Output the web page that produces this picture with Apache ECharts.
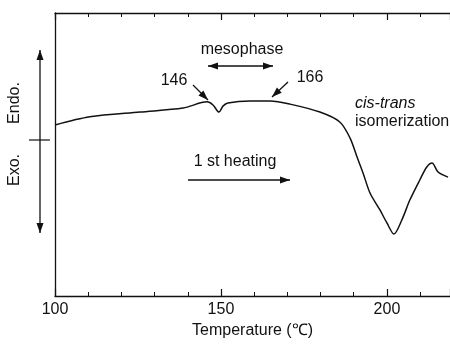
<!DOCTYPE html>
<html>
<head>
<meta charset="utf-8">
<script src="https://cdn.jsdelivr.net/npm/echarts@6/dist/echarts.min.js"></script>
<style>
  html, body { margin: 0; padding: 0; background: #fff; }
  #chart { width: 450px; height: 346px; }
</style>
</head>
<body>
<div id="chart"></div>
<script>
// DSC trace, 1st heating (temperature in degC, heat flow in arbitrary units, endo up)
var temperature = [100, 110.5, 125.6, 138.6, 145.8, 147.6, 149.4, 150.6, 152.1, 158.7,
  164.8, 170.8, 179.8, 185.8, 188.9, 191, 192.8, 194.9, 197.9, 200,
  202.1, 204.5, 206.9, 209.9, 212, 213.6, 215.4, 218.4];
var heatFlow = [6.04, 6.33, 6.5, 6.64, 6.86, 6.75, 6.5, 6.71, 6.82, 6.89,
  6.89, 6.78, 6.5, 6.15, 5.58, 4.91, 4.35, 3.64, 3.04, 2.58,
  2.19, 2.69, 3.39, 4.1, 4.56, 4.7, 4.38, 4.2];
var xTicks = [100, 150, 200];

var INK = '#111';
var FONT = '"Liberation Sans", Arial, sans-serif';

var chart = echarts.init(document.getElementById('chart'));

function arrowHead(x, y, angle) {
  // filled triangle pointing along angle
  var len = 10, half = 3.5;
  var c = Math.cos(angle), s = Math.sin(angle);
  return {
    type: 'polygon',
    shape: {
      points: [
        [x, y],
        [x - len * c - half * s, y - len * s + half * c],
        [x - len * c + half * s, y - len * s - half * c]
      ]
    },
    style: { fill: INK }
  };
}

function arrow(x1, y1, x2, y2, both) {
  var a = Math.atan2(y2 - y1, x2 - x1);
  var items = [
    { type: 'line', shape: { x1: x1, y1: y1, x2: x2, y2: y2 }, style: { stroke: INK, lineWidth: 1.3 } },
    arrowHead(x2, y2, a)
  ];
  if (both) items.push(arrowHead(x1, y1, a + Math.PI));
  return items;
}

function label(text, x, y, opts) {
  opts = opts || {};
  return {
    type: 'text',
    x: x,
    y: y,
    rotation: opts.rotation || 0,
    style: {
      text: text,
      fill: INK,
      font: (opts.italic ? 'italic ' : '') + '16px ' + FONT,
      textAlign: opts.align || 'center',
      textVerticalAlign: 'middle'
    }
  };
}

var graphics = []
  .concat(arrow(40, 50, 40, 233, true))
  .concat([{ type: 'line', shape: { x1: 29, y1: 140, x2: 50, y2: 140 }, style: { stroke: INK, lineWidth: 1.2 } }])
  .concat(arrow(208, 66, 273, 66, true))
  .concat(arrow(193, 85, 208, 100))
  .concat(arrow(288, 82, 272, 97))
  .concat(arrow(188, 180, 290, 180))
  .concat([
    label('Endo.', 15, 103, { rotation: Math.PI / 2 }),
    label('Exo.', 15, 170, { rotation: Math.PI / 2 }),
    label('mesophase', 242, 50),
    label('146', 174, 81),
    label('166', 310, 78),
    label('1 st heating', 235, 162),
    label('cis-trans', 355, 104, { italic: true, align: 'left' }),
    label('isomerization', 355, 122, { align: 'left' })
  ]);

var tickStyle = { show: true, inside: true, length: 7, lineStyle: { color: INK, width: 1.2 } };
var minorStyle = { show: true, splitNumber: 5, length: 4, lineStyle: { color: INK, width: 1 } };

var option = {
  backgroundColor: '#fff',
  animation: false,
  grid: { left: 55, right: 0, top: 13, bottom: 50, containLabel: false },
  xAxis: [
    {
      type: 'value',
      min: xTicks[0],
      max: 219,
      interval: xTicks[1] - xTicks[0],
      name: 'Temperature (\u2103)',
      nameLocation: 'middle',
      nameGap: 27,
      nameTextStyle: { color: INK, fontSize: 16, fontFamily: FONT },
      axisLine: { lineStyle: { color: INK, width: 1.3 } },
      axisTick: tickStyle,
      minorTick: minorStyle,
      splitLine: { show: false },
      axisLabel: {
        color: INK,
        fontSize: 16,
        fontFamily: FONT,
        margin: 6,
        showMaxLabel: false
      }
    },
    {
      type: 'value',
      position: 'top',
      min: xTicks[0],
      max: 219,
      interval: xTicks[1] - xTicks[0],
      axisLine: { lineStyle: { color: INK, width: 1.3 } },
      axisTick: tickStyle,
      minorTick: minorStyle,
      splitLine: { show: false },
      axisLabel: { show: false }
    }
  ],
  yAxis: {
    type: 'value',
    min: 0,
    max: 10,
    axisLine: { show: true, lineStyle: { color: INK, width: 1.3 } },
    axisTick: { show: false },
    axisLabel: { show: false },
    splitLine: { show: false }
  },
  series: [
    {
      type: 'line',
      xAxisIndex: 0,
      data: temperature.map(function (t, i) { return [t, heatFlow[i]]; }),
      showSymbol: false,
      smooth: 0.3,
      lineStyle: { color: INK, width: 1.5 }
    }
  ],
  graphic: graphics
};

chart.setOption(option);
</script>
</body>
</html>
